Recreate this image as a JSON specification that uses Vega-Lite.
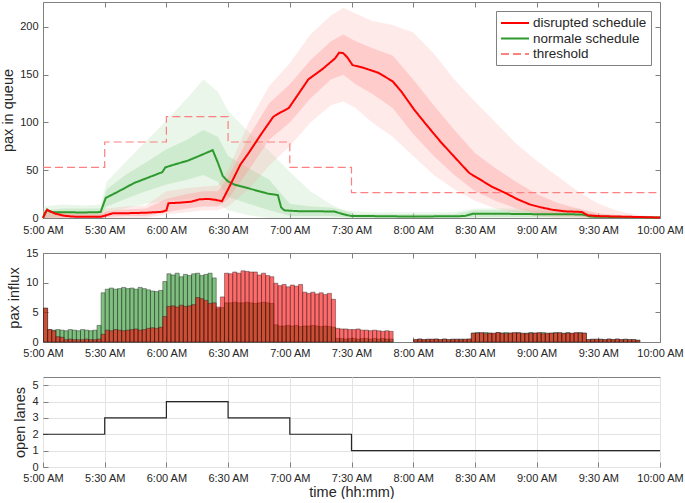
{
  "$schema": "https://vega.github.io/schema/vega-lite/v6.json",
  "padding": {"left": 0, "top": 1, "right": 0, "bottom": 0},
  "autosize": {"type": "pad"},
  "bounds": "flush",
  "spacing": 35,
  "config": {
    "font": "Liberation Sans",
    "view": {"stroke": "#808080", "strokeWidth": 1},
    "axis": {
      "labelFont": "Liberation Sans", "labelFontSize": 11, "labelColor": "#262626",
      "titleFont": "Liberation Sans", "titleFontSize": 14.5, "titleFontWeight": "normal", "titleColor": "#262626",
      "domain": false, "tickColor": "#808080", "tickSize": -5, "grid": false
    }
  },
  "datasets": {
    "band": [
      {"t": 300, "dlo": 0, "dhi": 8, "dlo2": 0, "dhi2": 6, "nlo": 0, "nhi": 12, "nlo2": 0, "nhi2": 8},
      {"t": 310, "dlo": 0, "dhi": 7, "dlo2": 0, "dhi2": 5, "nlo": 0, "nhi": 14, "nlo2": 2, "nhi2": 10},
      {"t": 320, "dlo": 0, "dhi": 6, "dlo2": 0, "dhi2": 4, "nlo": 0, "nhi": 13, "nlo2": 2, "nhi2": 10},
      {"t": 328, "dlo": 0, "dhi": 6, "dlo2": 0, "dhi2": 4, "nlo": 0, "nhi": 14, "nlo2": 2, "nhi2": 10},
      {"t": 331, "dlo": 0, "dhi": 10, "dlo2": 1, "dhi2": 7, "nlo": 4, "nhi": 38, "nlo2": 12, "nhi2": 30},
      {"t": 340, "dlo": 0, "dhi": 12, "dlo2": 2, "dhi2": 9, "nlo": 10, "nhi": 58, "nlo2": 20, "nhi2": 45},
      {"t": 350, "dlo": 0, "dhi": 13, "dlo2": 2, "dhi2": 10, "nlo": 15, "nhi": 80, "nlo2": 28, "nhi2": 58},
      {"t": 360, "dlo": 4, "dhi": 28, "dlo2": 6, "dhi2": 20, "nlo": 18, "nhi": 102, "nlo2": 35, "nhi2": 72},
      {"t": 370, "dlo": 6, "dhi": 31, "dlo2": 10, "dhi2": 25, "nlo": 20, "nhi": 125, "nlo2": 40, "nhi2": 82},
      {"t": 378, "dlo": 8, "dhi": 33, "dlo2": 12, "dhi2": 28, "nlo": 22, "nhi": 145, "nlo2": 45, "nhi2": 92},
      {"t": 385, "dlo": 8, "dhi": 34, "dlo2": 12, "dhi2": 28, "nlo": 15, "nhi": 132, "nlo2": 38, "nhi2": 85},
      {"t": 390, "dlo": 12, "dhi": 50, "dlo2": 20, "dhi2": 42, "nlo": 8, "nhi": 112, "nlo2": 22, "nhi2": 65},
      {"t": 400, "dlo": 30, "dhi": 100, "dlo2": 50, "dhi2": 85, "nlo": 3, "nhi": 90, "nlo2": 15, "nhi2": 52},
      {"t": 410, "dlo": 55, "dhi": 138, "dlo2": 82, "dhi2": 120, "nlo": 0, "nhi": 70, "nlo2": 8, "nhi2": 40},
      {"t": 420, "dlo": 75, "dhi": 162, "dlo2": 100, "dhi2": 140, "nlo": 0, "nhi": 48, "nlo2": 2, "nhi2": 15},
      {"t": 430, "dlo": 100, "dhi": 192, "dlo2": 125, "dhi2": 165, "nlo": 0, "nhi": 28, "nlo2": 2, "nhi2": 12},
      {"t": 440, "dlo": 118, "dhi": 212, "dlo2": 145, "dhi2": 185, "nlo": 0, "nhi": 14, "nlo2": 2, "nhi2": 11},
      {"t": 446, "dlo": 122, "dhi": 220, "dlo2": 150, "dhi2": 192, "nlo": 0, "nhi": 8, "nlo2": 1, "nhi2": 8},
      {"t": 452, "dlo": 115, "dhi": 214, "dlo2": 140, "dhi2": 185, "nlo": 0, "nhi": 7, "nlo2": 0, "nhi2": 4},
      {"t": 460, "dlo": 100, "dhi": 206, "dlo2": 130, "dhi2": 178, "nlo": 0, "nhi": 6, "nlo2": 0, "nhi2": 4},
      {"t": 470, "dlo": 85, "dhi": 202, "dlo2": 115, "dhi2": 170, "nlo": 0, "nhi": 6, "nlo2": 0, "nhi2": 4},
      {"t": 480, "dlo": 65, "dhi": 194, "dlo2": 88, "dhi2": 145, "nlo": 0, "nhi": 6, "nlo2": 0, "nhi2": 4},
      {"t": 490, "dlo": 45, "dhi": 172, "dlo2": 65, "dhi2": 118, "nlo": 0, "nhi": 6, "nlo2": 0, "nhi2": 4},
      {"t": 500, "dlo": 30, "dhi": 145, "dlo2": 45, "dhi2": 92, "nlo": 0, "nhi": 6, "nlo2": 0, "nhi2": 4},
      {"t": 510, "dlo": 18, "dhi": 122, "dlo2": 28, "dhi2": 68, "nlo": 0, "nhi": 10, "nlo2": 1, "nhi2": 8},
      {"t": 520, "dlo": 10, "dhi": 100, "dlo2": 18, "dhi2": 52, "nlo": 0, "nhi": 10, "nlo2": 1, "nhi2": 8},
      {"t": 530, "dlo": 5, "dhi": 78, "dlo2": 10, "dhi2": 38, "nlo": 0, "nhi": 10, "nlo2": 1, "nhi2": 8},
      {"t": 540, "dlo": 2, "dhi": 60, "dlo2": 5, "dhi2": 25, "nlo": 0, "nhi": 10, "nlo2": 1, "nhi2": 7},
      {"t": 550, "dlo": 0, "dhi": 44, "dlo2": 3, "dhi2": 16, "nlo": 0, "nhi": 10, "nlo2": 1, "nhi2": 7},
      {"t": 560, "dlo": 0, "dhi": 28, "dlo2": 2, "dhi2": 10, "nlo": 0, "nhi": 10, "nlo2": 1, "nhi2": 7},
      {"t": 570, "dlo": 0, "dhi": 15, "dlo2": 0, "dhi2": 5, "nlo": 0, "nhi": 4, "nlo2": 0, "nhi2": 3},
      {"t": 580, "dlo": 0, "dhi": 7, "dlo2": 0, "dhi2": 3, "nlo": 0, "nhi": 3, "nlo2": 0, "nhi2": 2},
      {"t": 590, "dlo": 0, "dhi": 3, "dlo2": 0, "dhi2": 2, "nlo": 0, "nhi": 2, "nlo2": 0, "nhi2": 2},
      {"t": 600, "dlo": 0, "dhi": 1.5, "dlo2": 0, "dhi2": 1, "nlo": 0, "nhi": 1.5, "nlo2": 0, "nhi2": 1}
    ],
    "thresh": [
      {"t": 300, "series": "threshold", "q": 53},
      {"t": 330, "series": "threshold", "q": 79.5},
      {"t": 360, "series": "threshold", "q": 106},
      {"t": 390, "series": "threshold", "q": 79.5},
      {"t": 420, "series": "threshold", "q": 53},
      {"t": 450, "series": "threshold", "q": 26.5},
      {"t": 600, "series": "threshold", "q": 26.5}
    ],
    "lines": [
      {"t": 300, "series": "normale schedule", "q": 0},
      {"t": 301, "series": "normale schedule", "q": 5},
      {"t": 302, "series": "normale schedule", "q": 8.8},
      {"t": 303, "series": "normale schedule", "q": 7},
      {"t": 305, "series": "normale schedule", "q": 6},
      {"t": 310, "series": "normale schedule", "q": 6},
      {"t": 320, "series": "normale schedule", "q": 5.8},
      {"t": 328, "series": "normale schedule", "q": 6.2},
      {"t": 330.5, "series": "normale schedule", "q": 21},
      {"t": 336, "series": "normale schedule", "q": 27},
      {"t": 344.4, "series": "normale schedule", "q": 36.7},
      {"t": 352, "series": "normale schedule", "q": 43},
      {"t": 358, "series": "normale schedule", "q": 48},
      {"t": 359.5, "series": "normale schedule", "q": 53},
      {"t": 364, "series": "normale schedule", "q": 56},
      {"t": 370.4, "series": "normale schedule", "q": 60},
      {"t": 376, "series": "normale schedule", "q": 65},
      {"t": 382.5, "series": "normale schedule", "q": 71},
      {"t": 385, "series": "normale schedule", "q": 58},
      {"t": 387.4, "series": "normale schedule", "q": 44},
      {"t": 389.8, "series": "normale schedule", "q": 38.5},
      {"t": 393, "series": "normale schedule", "q": 35},
      {"t": 400, "series": "normale schedule", "q": 31},
      {"t": 409.3, "series": "normale schedule", "q": 25.5},
      {"t": 414.2, "series": "normale schedule", "q": 24},
      {"t": 415.8, "series": "normale schedule", "q": 11},
      {"t": 417.4, "series": "normale schedule", "q": 8},
      {"t": 425, "series": "normale schedule", "q": 7},
      {"t": 435, "series": "normale schedule", "q": 7},
      {"t": 441.7, "series": "normale schedule", "q": 6.7},
      {"t": 446, "series": "normale schedule", "q": 4},
      {"t": 450, "series": "normale schedule", "q": 2},
      {"t": 460, "series": "normale schedule", "q": 2},
      {"t": 480, "series": "normale schedule", "q": 1.5},
      {"t": 505, "series": "normale schedule", "q": 2},
      {"t": 509, "series": "normale schedule", "q": 4.5},
      {"t": 520, "series": "normale schedule", "q": 4.5},
      {"t": 540, "series": "normale schedule", "q": 4},
      {"t": 555, "series": "normale schedule", "q": 4},
      {"t": 563, "series": "normale schedule", "q": 3.5},
      {"t": 566, "series": "normale schedule", "q": 1.5},
      {"t": 580, "series": "normale schedule", "q": 1},
      {"t": 600, "series": "normale schedule", "q": 0.5},
      {"t": 300, "series": "disrupted schedule", "q": 0},
      {"t": 301, "series": "disrupted schedule", "q": 5},
      {"t": 302, "series": "disrupted schedule", "q": 8.5},
      {"t": 303, "series": "disrupted schedule", "q": 7.5},
      {"t": 304, "series": "disrupted schedule", "q": 6.5},
      {"t": 306, "series": "disrupted schedule", "q": 4.5},
      {"t": 310, "series": "disrupted schedule", "q": 2.5},
      {"t": 314, "series": "disrupted schedule", "q": 1.5},
      {"t": 320, "series": "disrupted schedule", "q": 1.2},
      {"t": 328, "series": "disrupted schedule", "q": 1.2},
      {"t": 331, "series": "disrupted schedule", "q": 3},
      {"t": 334, "series": "disrupted schedule", "q": 5},
      {"t": 340, "series": "disrupted schedule", "q": 5},
      {"t": 350, "series": "disrupted schedule", "q": 5.5},
      {"t": 358, "series": "disrupted schedule", "q": 6.5},
      {"t": 360, "series": "disrupted schedule", "q": 8},
      {"t": 361, "series": "disrupted schedule", "q": 15.5},
      {"t": 366, "series": "disrupted schedule", "q": 16},
      {"t": 372, "series": "disrupted schedule", "q": 17},
      {"t": 376, "series": "disrupted schedule", "q": 19.5},
      {"t": 380, "series": "disrupted schedule", "q": 20},
      {"t": 384, "series": "disrupted schedule", "q": 19},
      {"t": 387, "series": "disrupted schedule", "q": 17.5},
      {"t": 390, "series": "disrupted schedule", "q": 30},
      {"t": 396, "series": "disrupted schedule", "q": 56},
      {"t": 400, "series": "disrupted schedule", "q": 68},
      {"t": 406, "series": "disrupted schedule", "q": 87.5},
      {"t": 412, "series": "disrupted schedule", "q": 106},
      {"t": 416, "series": "disrupted schedule", "q": 111},
      {"t": 419.5, "series": "disrupted schedule", "q": 115},
      {"t": 423, "series": "disrupted schedule", "q": 126},
      {"t": 429, "series": "disrupted schedule", "q": 145},
      {"t": 436, "series": "disrupted schedule", "q": 156},
      {"t": 442, "series": "disrupted schedule", "q": 167},
      {"t": 444, "series": "disrupted schedule", "q": 173},
      {"t": 446, "series": "disrupted schedule", "q": 172.5},
      {"t": 448, "series": "disrupted schedule", "q": 168},
      {"t": 450.5, "series": "disrupted schedule", "q": 160},
      {"t": 456, "series": "disrupted schedule", "q": 157},
      {"t": 463, "series": "disrupted schedule", "q": 152},
      {"t": 470, "series": "disrupted schedule", "q": 143},
      {"t": 474, "series": "disrupted schedule", "q": 133},
      {"t": 480.6, "series": "disrupted schedule", "q": 113},
      {"t": 487, "series": "disrupted schedule", "q": 96},
      {"t": 493.6, "series": "disrupted schedule", "q": 79},
      {"t": 500, "series": "disrupted schedule", "q": 64},
      {"t": 507.3, "series": "disrupted schedule", "q": 47},
      {"t": 512, "series": "disrupted schedule", "q": 41},
      {"t": 518, "series": "disrupted schedule", "q": 33},
      {"t": 525, "series": "disrupted schedule", "q": 26},
      {"t": 531, "series": "disrupted schedule", "q": 19.3},
      {"t": 537, "series": "disrupted schedule", "q": 14},
      {"t": 542, "series": "disrupted schedule", "q": 11.2},
      {"t": 548, "series": "disrupted schedule", "q": 8.5},
      {"t": 553.5, "series": "disrupted schedule", "q": 7},
      {"t": 560, "series": "disrupted schedule", "q": 6.5},
      {"t": 562, "series": "disrupted schedule", "q": 6.3},
      {"t": 565, "series": "disrupted schedule", "q": 2.8},
      {"t": 570, "series": "disrupted schedule", "q": 2},
      {"t": 580, "series": "disrupted schedule", "q": 1.5},
      {"t": 590, "series": "disrupted schedule", "q": 1},
      {"t": 600, "series": "disrupted schedule", "q": 0.5}
    ],
    "bars": [
      {"t": 300, "n": 5.7, "d": 5.7}, {"t": 302, "n": 2.1, "d": 2.1}, {"t": 304, "n": 2.0, "d": 1.9},
      {"t": 306, "n": 2.1, "d": 0.9}, {"t": 308, "n": 2.0, "d": 0.8}, {"t": 310, "n": 1.9, "d": 0.4},
      {"t": 312, "n": 2.1, "d": 0.5}, {"t": 314, "n": 2.0, "d": 0.4}, {"t": 316, "n": 1.9, "d": 0.4},
      {"t": 318, "n": 2.1, "d": 0.4}, {"t": 320, "n": 2.0, "d": 0.5}, {"t": 322, "n": 1.9, "d": 0.4},
      {"t": 324, "n": 2.0, "d": 0.4}, {"t": 326, "n": 2.8, "d": 0.5}, {"t": 328, "n": 8.3, "d": 1.3},
      {"t": 330, "n": 8.9, "d": 2.0}, {"t": 332, "n": 9.1, "d": 1.9}, {"t": 334, "n": 8.9, "d": 2.1},
      {"t": 336, "n": 9.0, "d": 2.0}, {"t": 338, "n": 9.2, "d": 1.9}, {"t": 340, "n": 9.0, "d": 2.0},
      {"t": 342, "n": 9.1, "d": 2.1}, {"t": 344, "n": 8.9, "d": 2.2}, {"t": 346, "n": 9.2, "d": 2.0},
      {"t": 348, "n": 9.0, "d": 2.1}, {"t": 350, "n": 8.8, "d": 2.3}, {"t": 352, "n": 8.6, "d": 2.4},
      {"t": 354, "n": 8.5, "d": 2.3}, {"t": 356, "n": 8.7, "d": 2.5}, {"t": 358, "n": 10.2, "d": 4.3},
      {"t": 360, "n": 11.5, "d": 6.0}, {"t": 362, "n": 11.3, "d": 6.1}, {"t": 364, "n": 11.6, "d": 5.9},
      {"t": 366, "n": 11.0, "d": 6.2}, {"t": 368, "n": 11.4, "d": 6.0}, {"t": 370, "n": 11.2, "d": 6.1},
      {"t": 372, "n": 11.5, "d": 6.3}, {"t": 374, "n": 11.6, "d": 7.5}, {"t": 376, "n": 11.2, "d": 7.3},
      {"t": 378, "n": 11.4, "d": 7.0}, {"t": 380, "n": 11.6, "d": 6.5}, {"t": 382, "n": 10.8, "d": 6.6},
      {"t": 384, "n": 5.6, "d": 5.9}, {"t": 386, "n": 5.8, "d": 7.6}, {"t": 388, "n": 6.6, "d": 11.6},
      {"t": 390, "n": 6.6, "d": 11.5}, {"t": 392, "n": 6.7, "d": 11.8}, {"t": 394, "n": 6.6, "d": 11.6},
      {"t": 396, "n": 6.6, "d": 12.0}, {"t": 398, "n": 6.7, "d": 11.9}, {"t": 400, "n": 6.6, "d": 11.8},
      {"t": 402, "n": 6.5, "d": 11.8}, {"t": 404, "n": 6.6, "d": 11.3}, {"t": 406, "n": 6.7, "d": 11.6},
      {"t": 408, "n": 6.6, "d": 11.2}, {"t": 410, "n": 6.5, "d": 11.0}, {"t": 412, "n": 2.9, "d": 9.9},
      {"t": 414, "n": 2.7, "d": 9.5}, {"t": 416, "n": 2.7, "d": 9.7}, {"t": 418, "n": 2.8, "d": 9.3},
      {"t": 420, "n": 2.7, "d": 9.6}, {"t": 422, "n": 2.8, "d": 9.4}, {"t": 424, "n": 2.6, "d": 9.7},
      {"t": 426, "n": 2.7, "d": 8.4}, {"t": 428, "n": 2.7, "d": 8.2}, {"t": 430, "n": 2.8, "d": 8.4},
      {"t": 432, "n": 2.7, "d": 8.1}, {"t": 434, "n": 2.6, "d": 8.3}, {"t": 436, "n": 2.7, "d": 8.0},
      {"t": 438, "n": 2.6, "d": 8.2}, {"t": 440, "n": 2.5, "d": 7.2}, {"t": 442, "n": 0.6, "d": 2.3},
      {"t": 444, "n": 0.6, "d": 2.2}, {"t": 446, "n": 0.5, "d": 2.2}, {"t": 448, "n": 0.6, "d": 2.1},
      {"t": 450, "n": 0.6, "d": 2.1}, {"t": 452, "n": 0.5, "d": 2.2}, {"t": 454, "n": 0.6, "d": 2.0},
      {"t": 456, "n": 0.6, "d": 2.0}, {"t": 458, "n": 0.5, "d": 1.9}, {"t": 460, "n": 0.6, "d": 2.0},
      {"t": 462, "n": 0.5, "d": 1.9}, {"t": 464, "n": 0.6, "d": 1.8}, {"t": 466, "n": 0.5, "d": 1.9},
      {"t": 468, "n": 0.5, "d": 1.8},
      {"t": 480, "n": 0.4, "d": 0.4}, {"t": 482, "n": 0.5, "d": 0.5}, {"t": 484, "n": 0.4, "d": 0.4},
      {"t": 486, "n": 0.5, "d": 0.4}, {"t": 488, "n": 0.4, "d": 0.5}, {"t": 490, "n": 0.5, "d": 0.5},
      {"t": 492, "n": 0.4, "d": 0.4}, {"t": 494, "n": 0.5, "d": 0.5}, {"t": 496, "n": 0.4, "d": 0.4},
      {"t": 498, "n": 0.5, "d": 0.4}, {"t": 500, "n": 0.4, "d": 0.5}, {"t": 502, "n": 0.5, "d": 0.4},
      {"t": 504, "n": 0.4, "d": 0.5}, {"t": 506, "n": 0.5, "d": 0.5}, {"t": 508, "n": 1.5, "d": 1.5},
      {"t": 510, "n": 1.6, "d": 1.5}, {"t": 512, "n": 1.5, "d": 1.6}, {"t": 514, "n": 1.6, "d": 1.4},
      {"t": 516, "n": 1.5, "d": 1.5}, {"t": 518, "n": 1.4, "d": 1.5}, {"t": 520, "n": 1.6, "d": 1.6},
      {"t": 522, "n": 1.5, "d": 1.5}, {"t": 524, "n": 1.6, "d": 1.4}, {"t": 526, "n": 1.5, "d": 1.5},
      {"t": 528, "n": 1.5, "d": 1.6}, {"t": 530, "n": 1.6, "d": 1.5}, {"t": 532, "n": 1.4, "d": 1.5},
      {"t": 534, "n": 1.5, "d": 1.4}, {"t": 536, "n": 1.6, "d": 1.5}, {"t": 538, "n": 1.5, "d": 1.5},
      {"t": 540, "n": 1.5, "d": 1.6}, {"t": 542, "n": 1.6, "d": 1.4}, {"t": 544, "n": 1.4, "d": 1.5},
      {"t": 546, "n": 1.5, "d": 1.5}, {"t": 548, "n": 1.6, "d": 1.5}, {"t": 550, "n": 1.5, "d": 1.6},
      {"t": 552, "n": 1.5, "d": 1.4}, {"t": 554, "n": 1.6, "d": 1.5}, {"t": 556, "n": 1.4, "d": 1.5},
      {"t": 558, "n": 1.5, "d": 1.6}, {"t": 560, "n": 1.6, "d": 1.5}, {"t": 562, "n": 1.5, "d": 1.5},
      {"t": 564, "n": 0.4, "d": 0.4}, {"t": 566, "n": 0.5, "d": 0.4}, {"t": 568, "n": 0.4, "d": 0.5},
      {"t": 570, "n": 0.5, "d": 0.4}, {"t": 572, "n": 0.4, "d": 0.4}, {"t": 574, "n": 0.5, "d": 0.5},
      {"t": 576, "n": 0.4, "d": 0.4}, {"t": 578, "n": 0.5, "d": 0.5}, {"t": 580, "n": 0.4, "d": 0.4},
      {"t": 582, "n": 0.5, "d": 0.4}, {"t": 584, "n": 0.4, "d": 0.4}, {"t": 586, "n": 0.4, "d": 0.4},
      {"t": 588, "n": 0.3, "d": 0.3}
    ],
    "lanes": [
      {"t": 300, "lanes": 2}, {"t": 330, "lanes": 3}, {"t": 360, "lanes": 4},
      {"t": 390, "lanes": 3}, {"t": 420, "lanes": 2}, {"t": 450, "lanes": 1}, {"t": 600, "lanes": 1}
    ]
  },
  "vconcat": [
    {
      "width": 617,
      "height": 216,
      "layer": [
        {
          "data": {"name": "band"},
          "mark": {"type": "area", "color": "#a8dca8", "opacity": 0.25},
          "encoding": {
            "x": {"field": "t", "type": "quantitative", "scale": {"domain": [300, 600], "nice": false, "zero": false},
                  "axis": {"values": [300, 330, 360, 390, 420, 450, 480, 510, 540, 570, 600], "labelExpr": "floor(datum.value/60) + ':' + (datum.value % 60 == 0 ? '00' : '30') + ' AM'", "title": null, "labelFlush": false, "labelPadding": 11}},
            "y": {"field": "nlo", "type": "quantitative", "scale": {"domain": [0, 226], "nice": false},
                  "axis": {"values": [0, 50, 100, 150, 200], "title": "pax in queue", "labelPadding": 10, "titlePadding": 4}},
            "y2": {"field": "nhi"}
          }
        },
        {
          "data": {"name": "band"},
          "mark": {"type": "area", "color": "#a0d8a0", "opacity": 0.35},
          "encoding": {
            "x": {"field": "t", "type": "quantitative", "axis": {"orient": "top", "values": [300, 330, 360, 390, 420, 450, 480, 510, 540, 570, 600], "labels": false, "title": null}},
            "y": {"field": "nlo2", "type": "quantitative", "axis": {"orient": "right", "values": [0, 50, 100, 150, 200], "labels": false, "title": null}},
            "y2": {"field": "nhi2"}
          }
        },
        {
          "data": {"name": "band"},
          "mark": {"type": "area", "color": "#ffa0a0", "opacity": 0.22},
          "encoding": {
            "x": {"field": "t", "type": "quantitative", "axis": null},
            "y": {"field": "dlo", "type": "quantitative", "axis": null},
            "y2": {"field": "dhi"}
          }
        },
        {
          "data": {"name": "band"},
          "mark": {"type": "area", "color": "#ff9494", "opacity": 0.35},
          "encoding": {
            "x": {"field": "t", "type": "quantitative", "axis": null},
            "y": {"field": "dlo2", "type": "quantitative", "axis": null},
            "y2": {"field": "dhi2"}
          }
        },
        {
          "data": {"name": "thresh"},
          "mark": {"type": "line", "interpolate": "step-after", "strokeWidth": 1.2},
          "encoding": {
            "x": {"field": "t", "type": "quantitative", "axis": null},
            "y": {"field": "q", "type": "quantitative", "axis": null},
            "color": {"field": "series", "type": "nominal"},
            "strokeDash": {"field": "series", "type": "nominal"}
          }
        },
        {
          "data": {"name": "lines"},
          "mark": {"type": "line", "strokeWidth": 2},
          "encoding": {
            "x": {"field": "t", "type": "quantitative", "axis": null},
            "y": {"field": "q", "type": "quantitative", "axis": null},
            "color": {"field": "series", "type": "nominal",
                      "scale": {"domain": ["disrupted schedule", "normale schedule", "threshold"], "range": ["#ff0000", "#2e9a2e", "#ff8080"]},
                      "legend": {"orient": "top-right", "offset": 9, "title": null, "fillColor": "white", "strokeColor": "#808080", "padding": 4, "labelFont": "Liberation Sans", "labelFontSize": 13.5, "labelColor": "#262626", "symbolType": "M-1,0H3", "symbolSize": 196, "symbolStrokeWidth": 1.8, "labelOffset": 17, "rowPadding": 0.5}},
            "strokeDash": {"field": "series", "type": "nominal",
                      "scale": {"domain": ["disrupted schedule", "normale schedule", "threshold"], "range": [[1, 0], [1, 0], [8, 4]]}},
            "order": {"field": "t", "type": "quantitative"}
          }
        }
      ],
      "resolve": {"axis": {"x": "independent", "y": "independent"}}
    },
    {
      "width": 617,
      "height": 89,
      "data": {"name": "bars"},
      "layer": [
        {
          "mark": {"type": "bar", "fill": "#008000", "fillOpacity": 0.5, "stroke": "#1a1a1a", "strokeWidth": 0.4, "binSpacing": 0},
          "encoding": {
            "x": {"field": "t", "type": "quantitative", "bin": {"step": 2, "extent": [300, 600]}, "scale": {"domain": [300, 600], "nice": false, "zero": false},
                  "axis": {"values": [300, 330, 360, 390, 420, 450, 480, 510, 540, 570, 600], "labelExpr": "floor(datum.value/60) + ':' + (datum.value % 60 == 0 ? '00' : '30') + ' AM'", "title": null, "labelFlush": false, "labelPadding": 10}},
            "y": {"field": "n", "type": "quantitative", "scale": {"domain": [0, 15], "nice": false},
                  "axis": {"values": [0, 5, 10, 15], "title": "pax influx", "labelPadding": 10, "titlePadding": 4}}
          }
        },
        {
          "mark": {"type": "bar", "fill": "#ff0000", "fillOpacity": 0.58, "stroke": "#1a1a1a", "strokeWidth": 0.4, "binSpacing": 0},
          "encoding": {
            "x": {"field": "t", "type": "quantitative", "bin": {"step": 2, "extent": [300, 600]},
                  "axis": {"orient": "top", "values": [300, 330, 360, 390, 420, 450, 480, 510, 540, 570, 600], "labels": false, "title": null}},
            "y": {"field": "d", "type": "quantitative",
                  "axis": {"orient": "right", "values": [0, 5, 10, 15], "labels": false, "title": null}}
          }
        }
      ],
      "resolve": {"axis": {"x": "independent", "y": "independent"}}
    },
    {
      "width": 617,
      "height": 90,
      "data": {"name": "lanes"},
      "mark": {"type": "line", "interpolate": "step-after", "color": "#262626", "strokeWidth": 1.2},
      "encoding": {
        "x": {"field": "t", "type": "quantitative", "scale": {"domain": [300, 600], "nice": false, "zero": false},
              "axis": {"values": [300, 330, 360, 390, 420, 450, 480, 510, 540, 570, 600], "labelExpr": "floor(datum.value/60) + ':' + (datum.value % 60 == 0 ? '00' : '30') + ' AM'", "title": "time (hh:mm)", "labelFlush": false, "labelPadding": 10, "titlePadding": 2, "grid": true, "gridColor": "#e3e3e3"}},
        "y": {"field": "lanes", "type": "quantitative", "scale": {"domain": [0, 5.5], "nice": false},
              "axis": {"values": [0, 1, 2, 3, 4, 5], "title": "open lanes", "labelPadding": 10, "titlePadding": 4, "grid": true, "gridColor": "#e3e3e3"}}
      }
    }
  ]
}
